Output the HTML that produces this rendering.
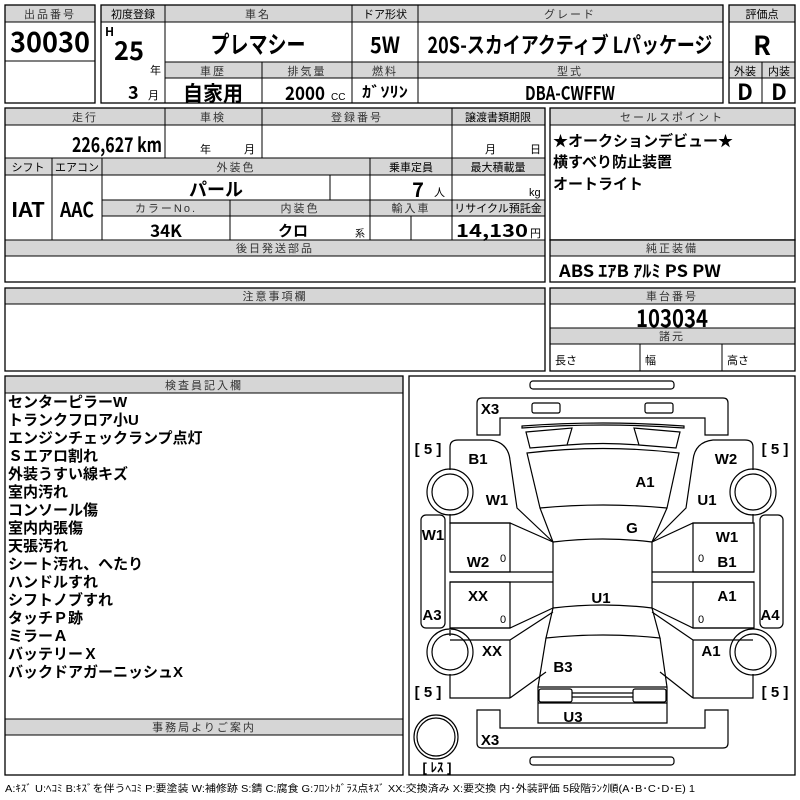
<!DOCTYPE html>
<html><head><meta charset="utf-8"><style>
html,body{margin:0;padding:0;background:#fff;width:800px;height:800px;overflow:hidden}
svg{display:block}
text{font-family:"Liberation Sans","Noto Sans CJK JP",sans-serif;fill:#000}
.h{fill:#d6d6d6;stroke:#000;stroke-width:1}
.b{fill:none;stroke:#000;stroke-width:1.3}
.l{stroke:#000;stroke-width:1}
.ht{font-size:11px;text-anchor:middle;letter-spacing:2px;fill:#333}
.big{font-family:"Noto Sans CJK JP",sans-serif;font-weight:bold}
.c{stroke:#000;stroke-width:1.2;fill:none}
.lab{font-family:"Noto Sans CJK JP",sans-serif;font-weight:bold;font-size:15px;text-anchor:middle}
.li{font-family:"Noto Sans CJK JP",sans-serif;font-weight:bold;font-size:15px}
</style></head><body>
<svg width="800" height="800" viewBox="0 0 800 800" xmlns="http://www.w3.org/2000/svg">
<!-- box 1 -->
<rect x="5" y="5" width="90" height="17" class="h"/>
<rect x="5" y="5" width="90" height="98" class="b"/>
<line x1="5" y1="61" x2="95" y2="61" class="l"/>
<text x="50" y="18" class="ht">出品番号</text>
<text x="50" y="52" class="big" font-size="28" text-anchor="middle" textLength="80" lengthAdjust="spacingAndGlyphs">30030</text>
<!-- box 2 -->
<rect x="101" y="5" width="622" height="17" class="h"/>
<rect x="165" y="62" width="558" height="16" class="h"/>
<rect x="101" y="5" width="622" height="98" class="b"/>
<line x1="165" y1="5" x2="165" y2="103" class="l"/>
<line x1="352" y1="5" x2="352" y2="103" class="l"/>
<line x1="418" y1="5" x2="418" y2="103" class="l"/>
<line x1="262" y1="62" x2="262" y2="103" class="l"/>
<text x="133" y="18" font-size="11" text-anchor="middle" fill="#333">初度登録</text>
<text x="258" y="18" class="ht">車名</text>
<text x="385" y="18" font-size="11" text-anchor="middle" fill="#333">ドア形状</text>
<text x="570" y="18" class="ht">グレード</text>
<text x="213" y="75" class="ht">車歴</text>
<text x="307" y="75" class="ht">排気量</text>
<text x="385" y="75" class="ht">燃料</text>
<text x="570" y="75" class="ht">型式</text>
<text x="105" y="36" font-size="12" class="big">H</text>
<text x="114" y="60" font-size="26" class="big" textLength="30" lengthAdjust="spacingAndGlyphs">25</text>
<text x="150" y="74" font-size="11">年</text>
<text x="128" y="99" font-size="18" class="big">3</text>
<text x="148" y="99" font-size="11">月</text>
<text x="258" y="53" font-size="24" class="big" text-anchor="middle" textLength="95" lengthAdjust="spacingAndGlyphs">プレマシー</text>
<text x="385" y="53" font-size="22" class="big" text-anchor="middle" textLength="30" lengthAdjust="spacingAndGlyphs">5W</text>
<text x="570" y="53" font-size="22" class="big" text-anchor="middle" textLength="285" lengthAdjust="spacingAndGlyphs">20S-スカイアクティブ Lパッケージ</text>
<text x="213" y="101" font-size="21" class="big" text-anchor="middle" textLength="60" lengthAdjust="spacingAndGlyphs">自家用</text>
<text x="285" y="100" font-size="19" class="big" textLength="40" lengthAdjust="spacingAndGlyphs">2000</text>
<text x="331" y="100" font-size="10">CC</text>
<text x="385" y="97" font-size="15" class="big" text-anchor="middle" textLength="46" lengthAdjust="spacingAndGlyphs">ｶﾞｿﾘﾝ</text>
<text x="570" y="100" font-size="19" class="big" text-anchor="middle" textLength="90" lengthAdjust="spacingAndGlyphs">DBA-CWFFW</text>
<!-- box 3 -->
<rect x="729" y="5" width="66" height="17" class="h"/>
<rect x="729" y="62" width="66" height="16" class="h"/>
<rect x="729" y="5" width="66" height="98" class="b"/>
<line x1="762" y1="62" x2="762" y2="103" class="l"/>
<text x="762" y="18" font-size="11" text-anchor="middle" fill="#333">評価点</text>
<text x="762" y="55" font-size="26" class="big" text-anchor="middle">R</text>
<text x="745" y="75" font-size="11" text-anchor="middle" fill="#333">外装</text>
<text x="779" y="75" font-size="11" text-anchor="middle" fill="#333">内装</text>
<text x="745" y="100" font-size="22" class="big" text-anchor="middle">D</text>
<text x="779" y="100" font-size="22" class="big" text-anchor="middle">D</text>
<!-- section 2 -->
<rect x="5" y="108" width="540" height="17" class="h"/>
<rect x="5" y="158" width="540" height="17" class="h"/>
<rect x="102" y="200" width="443" height="16" class="h"/>
<rect x="5" y="240" width="540" height="16" class="h"/>
<rect x="5" y="108" width="540" height="174" class="b"/>
<line x1="165" y1="108" x2="165" y2="158" class="l"/>
<line x1="262" y1="108" x2="262" y2="158" class="l"/>
<line x1="452" y1="108" x2="452" y2="240" class="l"/>
<line x1="52" y1="158" x2="52" y2="240" class="l"/>
<line x1="102" y1="158" x2="102" y2="240" class="l"/>
<line x1="370" y1="158" x2="370" y2="240" class="l"/>
<line x1="330" y1="175" x2="330" y2="200" class="l"/>
<line x1="230" y1="200" x2="230" y2="240" class="l"/>
<line x1="411" y1="216" x2="411" y2="240" class="l"/>
<text x="85" y="121" class="ht">走行</text>
<text x="213" y="121" class="ht">車検</text>
<text x="357" y="121" class="ht">登録番号</text>
<text x="498" y="121" font-size="11" text-anchor="middle" fill="#333">譲渡書類期限</text>
<text x="28" y="171" font-size="11" text-anchor="middle" fill="#333">シフト</text>
<text x="77" y="171" font-size="11" text-anchor="middle" fill="#333">エアコン</text>
<text x="236" y="171" class="ht">外装色</text>
<text x="411" y="171" font-size="11" text-anchor="middle" fill="#333">乗車定員</text>
<text x="498" y="171" font-size="11" text-anchor="middle" fill="#333">最大積載量</text>
<text x="166" y="212" class="ht">カラーNo.</text>
<text x="300" y="212" class="ht">内装色</text>
<text x="411" y="212" class="ht">輸入車</text>
<text x="498" y="212" font-size="11" text-anchor="middle" fill="#333">リサイクル預託金</text>
<text x="275" y="252" class="ht">後日発送部品</text>
<text x="72" y="152" font-size="20" class="big" textLength="90" lengthAdjust="spacingAndGlyphs">226,627 km</text>
<text x="200" y="153" font-size="11">年</text><text x="244" y="153" font-size="11">月</text>
<text x="485" y="153" font-size="11">月</text><text x="530" y="153" font-size="11">日</text>
<text x="28" y="217" font-size="20" class="big" text-anchor="middle" textLength="34" lengthAdjust="spacingAndGlyphs">IAT</text>
<text x="77" y="217" font-size="20" class="big" text-anchor="middle" textLength="34" lengthAdjust="spacingAndGlyphs">AAC</text>
<text x="216" y="196" font-size="18" class="big" text-anchor="middle">パール</text>
<text x="418" y="197" font-size="20" class="big" text-anchor="middle">7</text>
<text x="434" y="196" font-size="11">人</text>
<text x="529" y="196" font-size="11">kg</text>
<text x="166" y="237" font-size="17" class="big" text-anchor="middle">34K</text>
<text x="293" y="236" font-size="15" class="big" text-anchor="middle">クロ</text>
<text x="355" y="237" font-size="10">系</text>
<text x="456" y="237" font-size="18" class="big" textLength="72" lengthAdjust="spacingAndGlyphs">14,130</text>
<text x="530" y="237" font-size="11">円</text>
<!-- right sale -->
<rect x="550" y="108" width="245" height="17" class="h"/>
<rect x="550" y="108" width="245" height="132" class="b"/>
<text x="672" y="121" class="ht" letter-spacing="4">セールスポイント</text>
<text x="553" y="146" class="li">★オークションデビュー★</text>
<text x="553" y="167" class="li">横すべり防止装置</text>
<text x="553" y="189" class="li">オートライト</text>
<rect x="550" y="240" width="245" height="16" class="h"/>
<rect x="550" y="240" width="245" height="42" class="b"/>
<text x="672" y="252" class="ht">純正装備</text>
<text x="559" y="277" font-size="17" class="big" textLength="162" lengthAdjust="spacingAndGlyphs">ABS ｴｱB ｱﾙﾐ PS PW</text>
<!-- 注意 -->
<rect x="5" y="288" width="540" height="16" class="h"/>
<rect x="5" y="288" width="540" height="83" class="b"/>
<text x="275" y="300" class="ht">注意事項欄</text>
<rect x="550" y="288" width="245" height="16" class="h"/>
<rect x="550" y="328" width="245" height="16" class="h"/>
<rect x="550" y="288" width="245" height="83" class="b"/>
<line x1="640" y1="344" x2="640" y2="371" class="l"/>
<line x1="722" y1="344" x2="722" y2="371" class="l"/>
<text x="672" y="300" class="ht">車台番号</text>
<text x="672" y="327" font-size="24" class="big" text-anchor="middle" textLength="72" lengthAdjust="spacingAndGlyphs">103034</text>
<text x="672" y="340" class="ht">諸元</text>
<text x="555" y="364" font-size="11">長さ</text>
<text x="645" y="364" font-size="11">幅</text>
<text x="727" y="364" font-size="11">高さ</text>
<!-- inspector -->
<rect x="5" y="376" width="398" height="17" class="h"/>
<rect x="5" y="719" width="398" height="16" class="h"/>
<rect x="5" y="376" width="398" height="399" class="b"/>
<text x="204" y="389" class="ht">検査員記入欄</text>
<text x="204" y="731" class="ht" letter-spacing="4">事務局よりご案内</text>
<g class="li">
<text x="8" y="407">センターピラーW</text>
<text x="8" y="425">トランクフロア小U</text>
<text x="8" y="443">エンジンチェックランプ点灯</text>
<text x="8" y="461">Ｓエアロ割れ</text>
<text x="8" y="479">外装うすい線キズ</text>
<text x="8" y="497">室内汚れ</text>
<text x="8" y="515">コンソール傷</text>
<text x="8" y="533">室内内張傷</text>
<text x="8" y="551">天張汚れ</text>
<text x="8" y="569">シート汚れ、へたり</text>
<text x="8" y="587">ハンドルすれ</text>
<text x="8" y="605">シフトノブすれ</text>
<text x="8" y="623">タッチＰ跡</text>
<text x="8" y="641">ミラーＡ</text>
<text x="8" y="659">バッテリーＸ</text>
<text x="8" y="677">バックドアガーニッシュX</text>
</g>
<!-- diagram -->
<rect x="409" y="376" width="386" height="399" class="b"/>
<g class="c">
<rect x="530" y="381" width="144" height="8" rx="3"/>
<rect x="530" y="757" width="144" height="8" rx="3"/>
<path d="M477,435 L477,403 Q477,398 482,398 L723,398 Q728,398 728,403 L728,435 L705,435 L705,418 L500,418 L500,435 Z"/>
<rect x="532" y="403" width="28" height="10" rx="2"/>
<rect x="645" y="403" width="28" height="10" rx="2"/>
<path d="M522,426 Q603,420 684,426 L684,428 Q603,422 522,428 Z"/>
<path d="M526,432 L572,428 L567,445 L530,448 Z"/>
<path d="M680,432 L634,428 L639,445 L676,448 Z"/>
<path d="M567,445 Q603,442 639,445"/>
<path d="M527,453 Q603,444 679,453 L667,508 Q603,502 540,508 Z"/>
<path d="M540,508 L553,542 Q603,536 652,542 L667,508"/>
<path d="M553,542 L553,608 Q603,602 652,608 L652,542"/>
<path d="M553,608 L546,638 Q603,632 660,638 L652,608"/>
<path d="M546,638 L538,687 L538,723 L667,723 L667,687 L660,638"/>
<line x1="538" y1="687" x2="667" y2="687"/>
<rect x="539" y="689" width="33" height="13" rx="2"/>
<rect x="633" y="689" width="33" height="13" rx="2"/>
<line x1="572" y1="693" x2="633" y2="693"/><line x1="572" y1="697" x2="633" y2="697"/>
<line x1="538" y1="703" x2="667" y2="703"/>
<path d="M477,710 L477,743 Q477,748 482,748 L723,748 Q728,748 728,743 L728,710 L705,710 L705,728 L500,728 L500,710 Z"/>
<!-- left body -->
<path d="M450,470 L450,447 Q450,440 458,440 L490,440 Q508,442 510,460 L517,508 L553,542"/>
<path d="M450,514 L450,523 L510,523 L553,542"/>
<rect x="450" y="523" width="60" height="49"/>
<line x1="450" y1="572" x2="553" y2="572"/>
<line x1="450" y1="582" x2="553" y2="582"/>
<rect x="450" y="582" width="60" height="46"/>
<path d="M450,628 L510,628 L553,608"/>
<path d="M450,630 L450,636"/>
<path d="M510,640 L553,612 M510,640 L510,698 M510,698 L546,672 M510,640 L450,640 M450,674 L450,698 L510,698"/>
<rect x="421" y="515" width="24" height="113" rx="5"/>
<!-- right body -->
<path d="M753,470 L753,447 Q753,440 745,440 L713,440 Q695,442 693,460 L686,508 L652,542"/>
<path d="M753,514 L753,523 L693,523 L652,542"/>
<rect x="693" y="523" width="61" height="49"/>
<line x1="652" y1="572" x2="754" y2="572"/>
<line x1="652" y1="582" x2="754" y2="582"/>
<rect x="693" y="582" width="61" height="46"/>
<path d="M754,628 L693,628 L652,608"/>
<path d="M693,640 L652,612 M693,640 L693,698 M693,698 L660,672 M693,640 L753,640 M753,674 L753,698 L693,698"/>
<rect x="760" y="515" width="23" height="113" rx="5"/>
<circle cx="450" cy="492" r="23"/><circle cx="450" cy="492" r="18"/>
<circle cx="753" cy="492" r="23"/><circle cx="753" cy="492" r="18"/>
<circle cx="450" cy="652" r="23"/><circle cx="450" cy="652" r="18"/>
<circle cx="753" cy="652" r="23"/><circle cx="753" cy="652" r="18"/>
<circle cx="436" cy="737" r="22"/><circle cx="436" cy="737" r="19"/>
</g>
<g class="lab">
<text x="490" y="414">X3</text>
<text x="478" y="464">B1</text>
<text x="497" y="505">W1</text>
<text x="645" y="487">A1</text>
<text x="632" y="533">G</text>
<text x="726" y="464">W2</text>
<text x="707" y="505">U1</text>
<text x="433" y="540">W1</text>
<text x="478" y="567">W2</text>
<text x="727" y="542">W1</text>
<text x="727" y="567">B1</text>
<text x="478" y="601">XX</text>
<text x="601" y="603">U1</text>
<text x="727" y="601">A1</text>
<text x="432" y="620">A3</text>
<text x="770" y="620">A4</text>
<text x="492" y="656">XX</text>
<text x="711" y="656">A1</text>
<text x="563" y="672">B3</text>
<text x="573" y="722">U3</text>
<text x="490" y="745">X3</text>
</g>
<g font-size="11" text-anchor="middle">
<text x="503" y="562">0</text><text x="701" y="562">0</text>
<text x="503" y="623">0</text><text x="701" y="623">0</text>
</g>
<g font-size="15" font-weight="bold" text-anchor="middle">
<text x="428" y="454">[ 5 ]</text><text x="775" y="454">[ 5 ]</text>
<text x="428" y="697">[ 5 ]</text><text x="775" y="697">[ 5 ]</text>
<text x="437" y="772" font-size="13">[ ﾚｽ ]</text>
</g>
<text x="5" y="792" font-size="10" fill="#333" textLength="690" lengthAdjust="spacingAndGlyphs">A:ｷｽﾞ U:ﾍｺﾐ B:ｷｽﾞを伴うﾍｺﾐ P:要塗装 W:補修跡 S:錆 C:腐食 G:ﾌﾛﾝﾄｶﾞﾗｽ点ｷｽﾞ XX:交換済み X:要交換 内･外装評価 5段階ﾗﾝｸ順(A･B･C･D･E) 1</text>
</svg>
</body></html>
